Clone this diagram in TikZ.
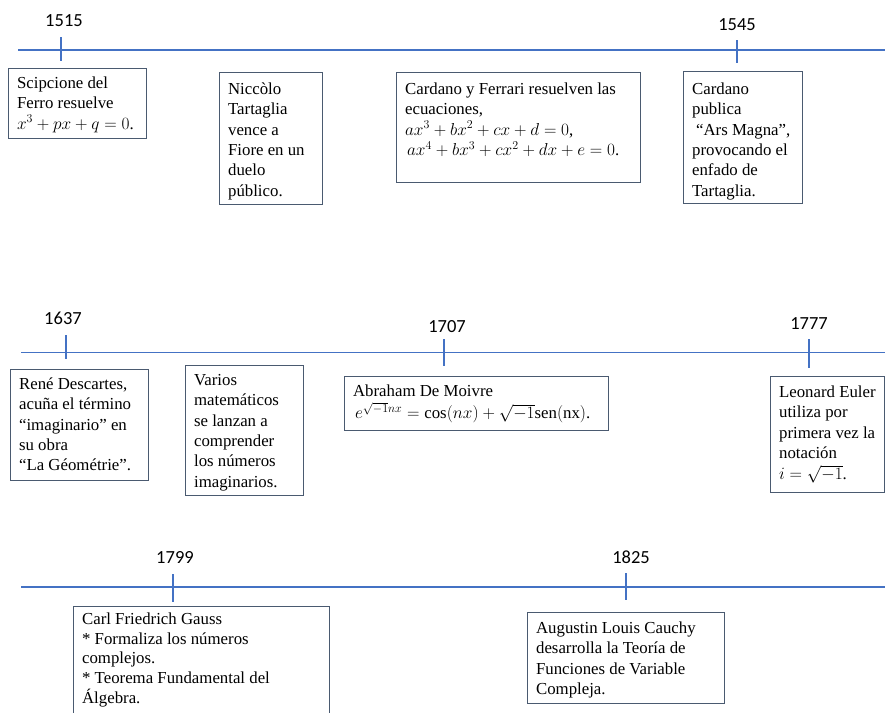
\documentclass[tikz,border=0pt]{standalone}
\usepackage{fontspec}
\setmainfont{Liberation Serif}
\newfontfamily\yearfont{Carlito}
\definecolor{tl}{HTML}{4472C4}
\definecolor{bx}{HTML}{4A5A70}
\newcommand\tbox[4]{\parbox[c][#2][t]{#1}{\raggedright\leftskip=8.5pt\rule{0pt}{#3}#4}}
\begin{document}
\begin{tikzpicture}[x=1pt,y=-1pt,
  tline/.style={draw=tl,line width=1.3pt},
  year/.style={font=\yearfont\fontsize{18.5}{20}\selectfont,anchor=base,inner sep=0pt},
  evbox/.style={draw=bx,line width=1.2pt,anchor=north west,inner sep=0pt,
    font=\fontsize{16.8}{20.3}\selectfont,fill=white}]
\useasboundingbox (0,0) rectangle (885,712);
\clip (0,0) rectangle (885,712);
% timelines
\coordinate (l1s) at (18,50);  \coordinate (l1e) at (885,50);
\coordinate (l2s) at (21,352.5); \coordinate (l2e) at (885,352.5);
\coordinate (l3s) at (21,587); \coordinate (l3e) at (885,587);
\draw[tline] (l1s) -- (l1e);
\draw[tline] (l2s) -- (l2e);
\draw[tline] (l3s) -- (l3e);
% ticks
\coordinate (k1a) at (61,37);   \coordinate (k1b) at (61,61);
\coordinate (k2a) at (737,40);  \coordinate (k2b) at (737,63);
\coordinate (k3a) at (66,335);  \coordinate (k3b) at (66,359);
\coordinate (k4a) at (444,339); \coordinate (k4b) at (444,366);
\coordinate (k5a) at (809,339); \coordinate (k5b) at (809,368);
\coordinate (k6a) at (173,574); \coordinate (k6b) at (173,602);
\coordinate (k7a) at (626,573); \coordinate (k7b) at (626,600);
\foreach \k in {1,...,7}{\draw[tline] (k\k a) -- (k\k b);}
% years
\node[year] (y1515) at (64,26) {1515};
\node[year] (y1545) at (737,30) {1545};
\node[year] (y1637) at (63,324) {1637};
\node[year] (y1707) at (447,332) {1707};
\node[year] (y1777) at (809,329) {1777};
\node[year] (y1799) at (175,563) {1799};
\node[year] (y1825) at (631,563) {1825};
% boxes
\node[evbox] (bA) at (8,68) {\tbox{138pt}{70pt}{20pt}{Scipcione del\\ Ferro resuelve\\ $x^3+px+q=0$.}};
\node[evbox] (bB) at (219,72) {\tbox{103pt}{132pt}{22pt}{Niccòlo\\ Tartaglia\\ vence a\\ Fiore en un\\ duelo\\ público.}};
\node[evbox] (bC) at (396,72) {\tbox{244pt}{110pt}{22pt}{Cardano y Ferrari resuelven las\\ ecuaciones,\\ $ax^3+bx^2+cx+d=0$,\\ \hspace*{2pt}$ax^4+bx^3+cx^2+dx+e=0$.}};
\node[evbox] (bD) at (683,71) {\tbox{119pt}{132pt}{23pt}{Cardano\\ publica\\ \hspace*{4pt}“Ars Magna”,\\ provocando el\\ enfado de\\ Tartaglia.}};
\node[evbox] (bE) at (10,369) {\tbox{138pt}{111pt}{20pt}{René Descartes,\\ acuña el término\\ “imaginario” en\\ su obra\\ “La Géométrie”.}};
\node[evbox] (bF) at (185,365) {\tbox{118pt}{130pt}{20pt}{Varios\\ matemáticos\\ se lanzan a\\ comprender\\ los números\\ imaginarios.}};
\node[evbox] (bG) at (344,376) {\tbox{264pt}{54pt}{20pt}{Abraham De Moivre\\[2pt] \hspace*{2pt}$e^{\sqrt{-1}nx}=\cos(nx)+\sqrt{-1}\mathrm{sen}(\mathrm{nx})$.}};
\node[evbox] (bH) at (770,376) {\tbox{114pt}{116pt}{21pt}{Leonard Euler\\ utiliza por\\ primera vez la\\ notación\\[1pt] $i=\sqrt{-1}$.}};
\node[evbox,font=\fontsize{16.8}{19.6}\selectfont] (bI) at (73,606) {\tbox{256pt}{115pt}{18pt}{Carl Friedrich Gauss\\ {*} Formaliza los números\\ complejos.\\ {*} Teorema Fundamental del\\ Álgebra.}};
\node[evbox] (bJ) at (527,612) {\tbox{197pt}{91pt}{21pt}{Augustin Louis Cauchy\\ desarrolla la Teoría de\\ Funciones de Variable\\ Compleja.}};
\end{tikzpicture}
\end{document}
